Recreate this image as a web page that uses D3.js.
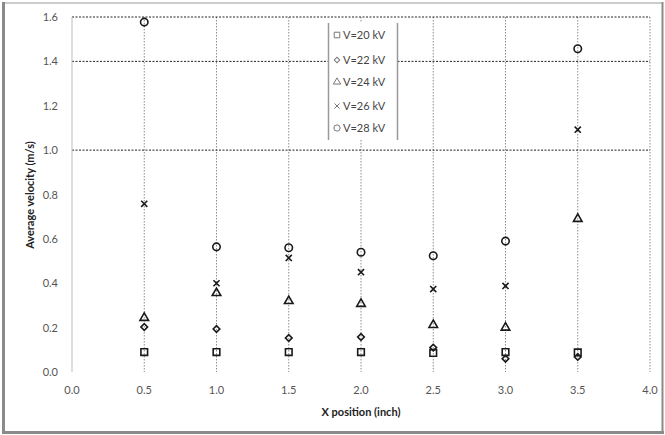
<!DOCTYPE html>
<html>
<head>
<meta charset="utf-8">
<script src="https://cdn.jsdelivr.net/npm/d3@7"></script>
<style>
body { margin: 0; background: #fff; }
text { font-family: Lato, 'Open Sans', sans-serif; }
</style>
</head>
<body>
<script>
// values
var xPos = [0.5, 1.0, 1.5, 2.0, 2.5, 3.0, 3.5];
var v20 = [0.09, 0.09, 0.09, 0.09, 0.086, 0.09, 0.088];
var v22 = [0.203, 0.194, 0.153, 0.158, 0.11, 0.06, 0.068];
var v24 = [0.244, 0.356, 0.32, 0.307, 0.212, 0.20, 0.69];
var v26 = [0.758, 0.40, 0.514, 0.45, 0.374, 0.388, 1.092];
var v28 = [1.577, 0.564, 0.56, 0.54, 0.524, 0.59, 1.457];
var seriesNames = ['V=20 kV', 'V=22 kV', 'V=24 kV', 'V=26 kV', 'V=28 kV'];
var xTicks = [0, 0.5, 1, 1.5, 2, 2.5, 3, 3.5, 4];
var yTicks = [0, 0.2, 0.4, 0.6, 0.8, 1.0, 1.2, 1.4, 1.6];
var yGrid = [1.0, 1.4, 1.6];

var series = [v20, v22, v24, v26, v28];
// diamond is a square turned 45 degrees, like the reference
var shapes = [d3.symbolSquare, d3.symbolSquare, d3.symbolTriangle, d3.symbolX, d3.symbolCircle];
var sizes = [44, 22, 32, 26, 44];
var rot = [0, 45, 0, 0, 0];

var svg = d3.select('body').append('svg')
	.attr('width', 665)
	.attr('height', 435);

var x = d3.scaleLinear().domain([0, 4]).range([72, 650]);
var y = d3.scaleLinear().domain([0, 1.6]).range([372, 17]);

// outer frame
svg.append('line').attr('x1', 2).attr('x2', 663).attr('y1', 3).attr('y2', 3)
	.attr('stroke', '#999').attr('stroke-width', 1.2);
svg.append('line').attr('x1', 3.5).attr('x2', 3.5).attr('y1', 2).attr('y2', 434)
	.attr('stroke', '#8a8a8a').attr('stroke-width', 3);
svg.append('line').attr('x1', 2).attr('x2', 664).attr('y1', 432.5).attr('y2', 432.5)
	.attr('stroke', '#8a8a8a').attr('stroke-width', 3);
svg.append('line').attr('x1', 662.5).attr('x2', 662.5).attr('y1', 2).attr('y2', 434)
	.attr('stroke', '#8a8a8a').attr('stroke-width', 2);

// vertical grid
svg.selectAll('.vgrid')
	.data(xTicks.slice(1))
	.enter().append('line')
	.attr('class', 'vgrid')
	.attr('x1', function(d){ return x(d); })
	.attr('x2', function(d){ return x(d); })
	.attr('y1', y(1.6))
	.attr('y2', y(0))
	.attr('stroke', '#8c8c8c')
	.attr('stroke-width', 1)
	.attr('stroke-dasharray', '1.5,1.5');

// horizontal grid
svg.selectAll('.hgrid')
	.data(yGrid)
	.enter().append('line')
	.attr('class', 'hgrid')
	.attr('x1', x(0))
	.attr('x2', x(4))
	.attr('y1', function(d){ return y(d); })
	.attr('y2', function(d){ return y(d); })
	.attr('stroke', '#222')
	.attr('stroke-width', 1)
	.attr('stroke-dasharray', '2,1.5');

// left axis line
svg.append('line')
	.attr('x1', x(0)).attr('x2', x(0))
	.attr('y1', y(1.6)).attr('y2', y(0))
	.attr('stroke', '#bdbdbd');

// tick labels
svg.selectAll('.ylab')
	.data(yTicks)
	.enter().append('text')
	.attr('class', 'ylab')
	.attr('x', 58)
	.attr('y', function(d){ return y(d) + 4; })
	.attr('text-anchor', 'end')
	.attr('font-size', 11)
	.attr('fill', '#555')
	.text(function(d){ return d3.format('.1f')(d); });

svg.selectAll('.xlab')
	.data(xTicks)
	.enter().append('text')
	.attr('class', 'xlab')
	.attr('x', function(d){ return x(d); })
	.attr('y', 394)
	.attr('text-anchor', 'middle')
	.attr('font-size', 11)
	.attr('fill', '#555')
	.text(function(d){ return d3.format('.1f')(d); });

// axis titles
svg.append('text')
	.attr('x', 361)
	.attr('y', 416)
	.attr('text-anchor', 'middle')
	.attr('font-size', 11)
	.attr('font-weight', 'bold')
	.attr('fill', '#222')
	.text('X position (inch)');

svg.append('text')
	.attr('transform', 'translate(34,195) rotate(-90)')
	.attr('text-anchor', 'middle')
	.attr('font-size', 11)
	.attr('font-weight', 'bold')
	.attr('fill', '#222')
	.text('Average velocity (m/s)');

// points
series.forEach(function(vals, i){
	svg.selectAll('.pt' + i)
		.data(vals)
		.enter().append('path')
		.attr('class', 'pt' + i)
		.attr('transform', function(d, j){ return 'translate(' + x(xPos[j]) + ',' + y(d) + ') rotate(' + rot[i] + ')'; })
		.attr('d', d3.symbol().type(shapes[i]).size(sizes[i]))
		.attr('fill', 'none')
		.attr('stroke', '#1a1a1a')
		.attr('stroke-width', 1.6);
});

// legend
var legend = svg.append('g');
legend.append('rect')
	.attr('x', 328).attr('y', 23)
	.attr('width', 69).attr('height', 117)
	.attr('fill', '#fff');
legend.append('line').attr('x1', 328.5).attr('x2', 328.5).attr('y1', 23).attr('y2', 140)
	.attr('stroke', '#999').attr('stroke-width', 1.5);
legend.append('line').attr('x1', 397.5).attr('x2', 397.5).attr('y1', 23).attr('y2', 140)
	.attr('stroke', '#999').attr('stroke-width', 1.5);

var legY = [35, 60, 82, 106, 128];
seriesNames.forEach(function(name, i){
	legend.append('path')
		.attr('transform', 'translate(337,' + legY[i] + ') rotate(' + rot[i] + ')')
		.attr('d', d3.symbol().type(shapes[i]).size(sizes[i] * 0.7))
		.attr('fill', 'none')
		.attr('stroke', '#777')
		.attr('stroke-width', 1);
	legend.append('text')
		.attr('x', 343)
		.attr('y', legY[i] + 4)
		.attr('font-size', 11)
		.attr('fill', '#444')
		.text(name);
});
</script>
</body>
</html>
